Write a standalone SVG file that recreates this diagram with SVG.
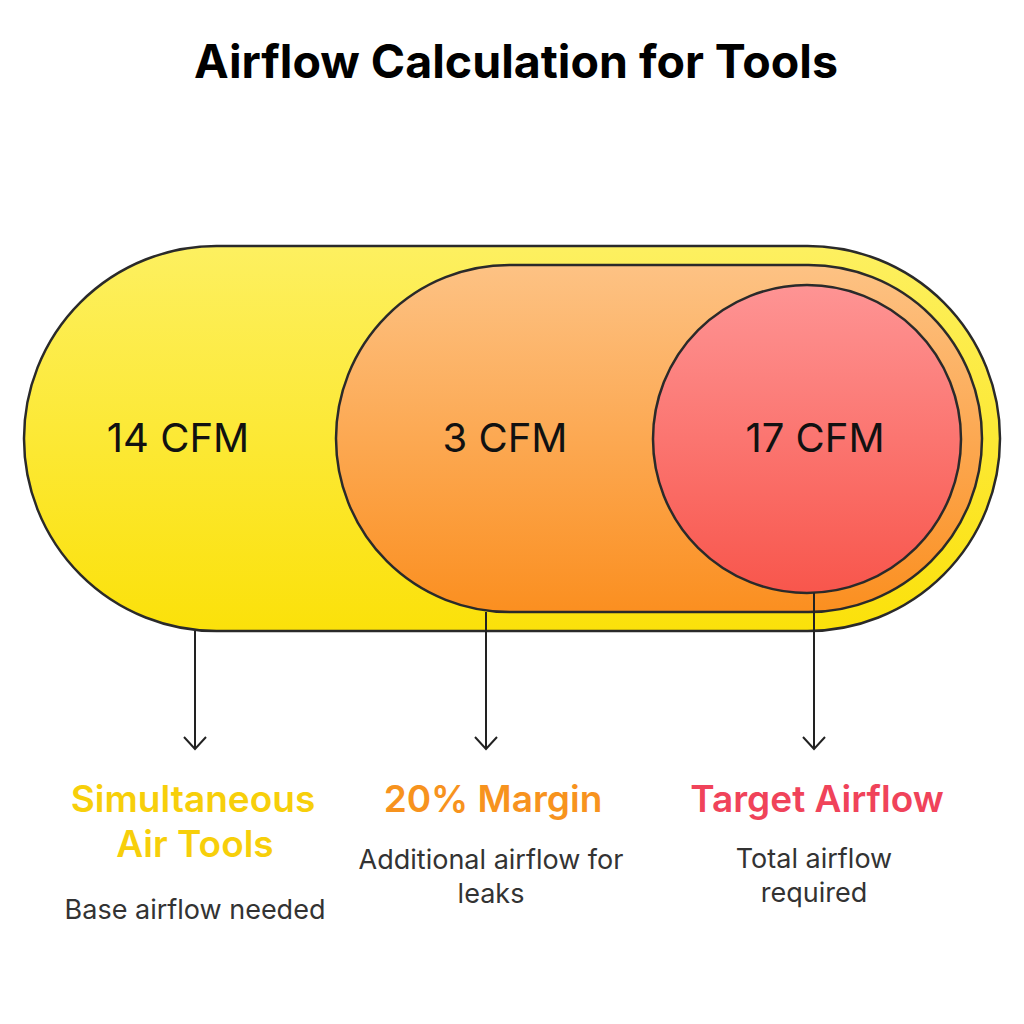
<svg xmlns="http://www.w3.org/2000/svg" width="1024" height="1024" viewBox="0 0 1024 1024">
<defs>
<linearGradient id="gy" x1="0" y1="0" x2="0" y2="1"><stop offset="0" stop-color="#fdf060"/><stop offset="1" stop-color="#fbe10a"/></linearGradient>
<linearGradient id="go" x1="0" y1="0" x2="0" y2="1"><stop offset="0" stop-color="#fdc284"/><stop offset="1" stop-color="#fb8f20"/></linearGradient>
<linearGradient id="gr" x1="0" y1="0" x2="0" y2="1"><stop offset="0" stop-color="#fe9494"/><stop offset="1" stop-color="#f8564c"/></linearGradient>
<marker id="ah" markerWidth="16" markerHeight="28" refX="14" refY="12" orient="auto" markerUnits="userSpaceOnUse"><path d="M2,1 L14,12 L2,23" fill="none" stroke="#222" stroke-width="2"/></marker>
<style>
.s{stroke:#2a2a2a;stroke-width:2.5}
.v{font-family:Inter,"Noto Sans",sans-serif;font-size:40px;fill:#111;text-anchor:middle}
.h{font-family:Inter,"Noto Sans",sans-serif;font-size:37px;font-weight:600;text-anchor:middle}
.d{font-family:Inter,"Noto Sans",sans-serif;font-size:27px;fill:#333;text-anchor:middle}
.c{stroke:#222;stroke-width:2;fill:none}
</style>
</defs>
<rect width="1024" height="1024" fill="#fff"/>
<text x="516" y="78" font-family="Inter,'Noto Sans',sans-serif" font-size="46.5" font-weight="700" text-anchor="middle" fill="#000">Airflow Calculation for Tools</text>
<g id="base"><rect x="24" y="246" width="976" height="385" rx="192.5" fill="url(#gy)" class="s"/><text x="178" y="452" class="v">14 CFM</text></g>
<g id="margin"><rect x="336" y="265" width="646" height="347" rx="173.5" fill="url(#go)" class="s"/><text x="505" y="452" class="v">3 CFM</text></g>
<g id="target"><circle cx="807" cy="439" r="154" fill="url(#gr)" class="s"/><text x="815" y="452" class="v">17 CFM</text></g>
<g id="connectors">
<line x1="195" y1="631" x2="195" y2="749" class="c" marker-end="url(#ah)"/>
<line x1="486" y1="612" x2="486" y2="749" class="c" marker-end="url(#ah)"/>
<line x1="814" y1="593" x2="814" y2="749" class="c" marker-end="url(#ah)"/>
</g>
<g id="label1"><text x="193" y="812" class="h" fill="#f7cf0a">Simultaneous</text><text x="195" y="857" class="h" fill="#f7cf0a">Air Tools</text><text x="195" y="919" class="d">Base airflow needed</text></g>
<g id="label2"><text x="493" y="812" class="h" fill="#f7931e">20% Margin</text><text x="491" y="869" class="d">Additional airflow for</text><text x="491" y="903" class="d">leaks</text></g>
<g id="label3"><text x="817" y="812" class="h" fill="#f0435a">Target Airflow</text><text x="814" y="868" class="d">Total airflow</text><text x="814" y="902" class="d">required</text></g>
</svg>
